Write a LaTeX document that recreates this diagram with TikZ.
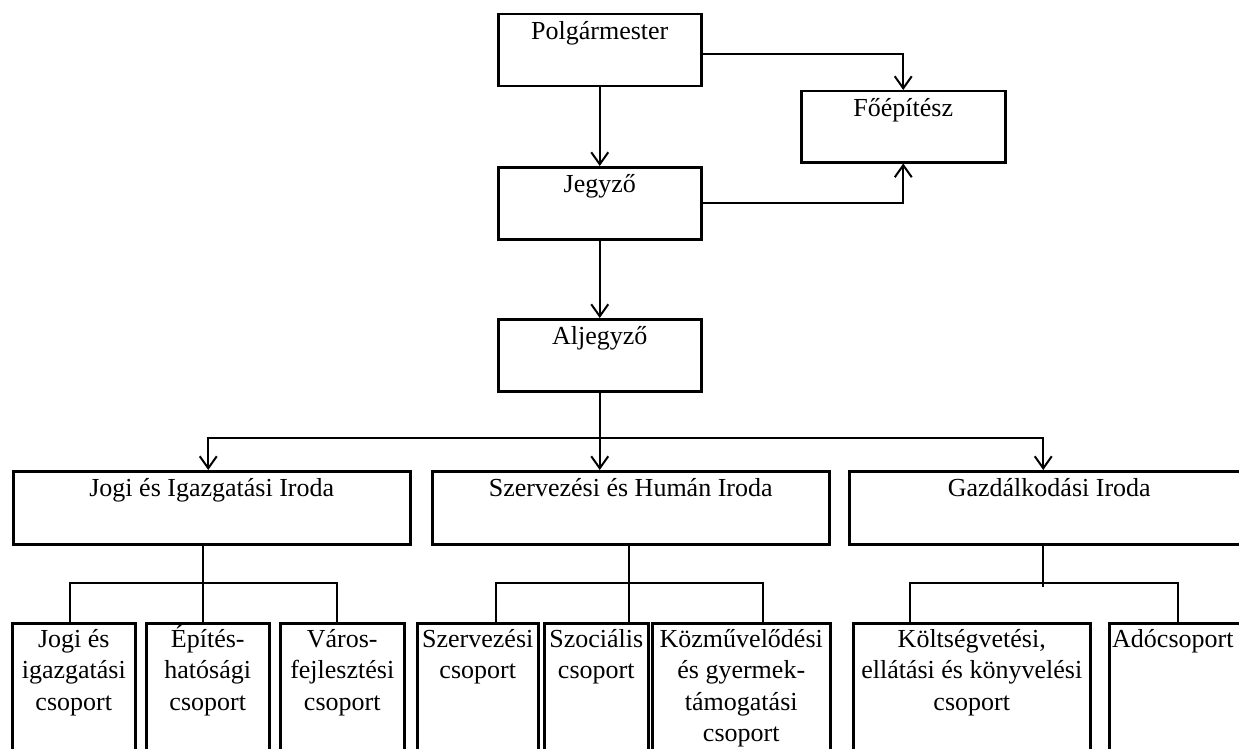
\documentclass[tikz,border=0pt]{standalone}
\usepackage{fontspec}
\setmainfont{Liberation Serif}
\usetikzlibrary{arrows.meta}
\newcommand{\orgfont}{\fontsize{26}{31.5}\selectfont}
\newcommand{\fs}{\rule{0pt}{25pt}}
\tikzset{
  unit/.style={draw, line width=2.5pt, inner sep=0pt, anchor=north west},
  unittext/.style={anchor=north, align=center, font=\orgfont, inner sep=0pt, yshift=-1pt},
  link/.style={line width=2pt},
  arr/.style={link, -{Straight Barb[length=12pt, width=17pt]}}
}
\begin{document}
\begin{tikzpicture}[x=1pt, y=-1pt]
\useasboundingbox (0,0) rectangle (1239,749);
\clip (0,0) rectangle (1239,749);
% vezetés
\node[unit, minimum width=203pt, minimum height=72pt, label={[unittext]north:\fs Polgármester}] (polg) at (497,13) {};
\node[unit, minimum width=204pt, minimum height=71pt, label={[unittext]north:\fs Főépítész}] (fo) at (800,90) {};
\node[unit, minimum width=203pt, minimum height=72pt, label={[unittext]north:\fs Jegyző}] (jegyzo) at (497,166) {};
\node[unit, minimum width=203pt, minimum height=72pt, label={[unittext]north:\fs Aljegyző}] (aljegyzo) at (497,318) {};
% irodák
\node[unit, minimum width=397pt, minimum height=73pt, label={[unittext]north:\fs Jogi és Igazgatási Iroda}] (jiroda) at (12,470) {};
\node[unit, minimum width=397pt, minimum height=73pt, label={[unittext]north:\fs Szervezési és Humán Iroda}] (sziroda) at (431,470) {};
\node[unit, minimum width=400pt, minimum height=73pt, label={[unittext]north:\fs Gazdálkodási Iroda}] (giroda) at (848,470) {};
% csoportok
\node[unit, minimum width=123pt, minimum height=150pt, label={[unittext, yshift=1pt]north:\fs Jogi és\\igazgatási\\csoport}] (jc1) at (11,622) {};
\node[unit, minimum width=123pt, minimum height=150pt, label={[unittext, yshift=1pt]north:\fs Építés-\\hatósági\\csoport}] (jc2) at (145,622) {};
\node[unit, minimum width=124pt, minimum height=150pt, label={[unittext, yshift=1pt]north:\fs Város-\\fejlesztési\\csoport}] (jc3) at (279,622) {};
\node[unit, minimum width=121pt, minimum height=150pt, label={[unittext, yshift=1pt]north:\fs Szervezési\\csoport}] (sc1) at (416,622) {};
\node[unit, minimum width=104pt, minimum height=150pt, label={[unittext, yshift=1pt]north:\fs Szociális\\csoport}] (sc2) at (543,622) {};
\node[unit, minimum width=178pt, minimum height=150pt, label={[unittext, yshift=1pt]north:\fs Közművelődési\\és gyermek-\\támogatási\\csoport}] (sc3) at (651,622) {};
\node[unit, minimum width=237pt, minimum height=150pt, label={[unittext, yshift=1pt]north:\fs Költségvetési,\\ellátási és könyvelési\\csoport}] (gc1) at (852,622) {};
\node[unit, minimum width=150pt, minimum height=150pt, label={[unittext, anchor=north west, xshift=4pt, yshift=1pt]north west:\fs Adócsoport}] (gc2) at (1108,622) {};
% kapcsolatok
\draw[arr] (polg.south) -- (jegyzo.north);
\draw[arr] ([yshift=-4pt]polg.east) -| (fo.north);
\draw[arr] (jegyzo.east) -| (fo.south);
\draw[arr] (jegyzo.south) -- (aljegyzo.north);
\draw[arr] (aljegyzo.south) -- (aljegyzo.south |- sziroda.north);
\draw[arr] (aljegyzo.south) ++(0,45) -| ([xshift=-3.5pt]jiroda.north);
\draw[arr] (aljegyzo.south) ++(0,45) -| ([xshift=-6pt]giroda.north);
\draw[link] ([xshift=-8.5pt]jiroda.south) -- ([xshift=-4.5pt]jc2.north);
\draw[link] ([xshift=-3.5pt]jc1.north) -- ++(0,-39) -| ([xshift=-5pt]jc3.north);
\draw[link] ([xshift=-1.5pt]sziroda.south) -- ([xshift=33pt]sc2.north);
\draw[link] ([xshift=18.5pt]sc1.north) -- ++(0,-39) -| ([xshift=22pt]sc3.north);
\draw[link] ([xshift=-6pt]giroda.south) -- ++(0,41);
\draw[link] ([xshift=-61.5pt]gc1.north) -- ++(0,-39) -| ([xshift=-6pt]gc2.north);
\end{tikzpicture}
\end{document}
